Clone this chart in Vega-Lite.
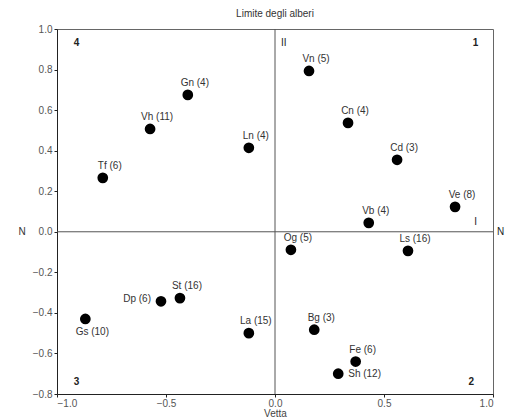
{
  "$schema": "https://vega.github.io/schema/vega-lite/v6.json",
  "autosize": "none",
  "width": 436,
  "height": 365,
  "padding": {"left": 57, "top": 29, "right": 12, "bottom": 25},
  "background": "white",
  "config": {
    "font": "Liberation Sans",
    "view": {"stroke": "#666", "strokeWidth": 1},
    "axis": {"grid": false, "domainColor": "#222", "tickColor": "#222", "tickSize": 3, "labelPadding": 1, "labelColor": "#555", "labelFontSize": 10, "labelFont": "Liberation Sans", "titleFont": "Liberation Sans", "titleFontWeight": "normal", "titleColor": "#444", "titleFontSize": 10}
  },
  "title": {"text": "Limite degli alberi", "fontSize": 10, "fontWeight": "normal", "color": "#333", "font": "Liberation Sans", "offset": 5, "anchor": "middle"},
  "datasets": {
    "pts": [
      {"name": "Gn (4)", "vetta": -0.40, "n": 0.675, "pos": "above"},
      {"name": "Vh (11)", "vetta": -0.573, "n": 0.507, "pos": "above"},
      {"name": "Ln (4)", "vetta": -0.12, "n": 0.414, "pos": "above"},
      {"name": "Tf (6)", "vetta": -0.79, "n": 0.266, "pos": "above"},
      {"name": "Vn (5)", "vetta": 0.156, "n": 0.793, "pos": "above"},
      {"name": "Cn (4)", "vetta": 0.335, "n": 0.537, "pos": "above"},
      {"name": "Cd (3)", "vetta": 0.56, "n": 0.355, "pos": "above"},
      {"name": "Ve (8)", "vetta": 0.826, "n": 0.123, "pos": "above"},
      {"name": "Vb (4)", "vetta": 0.43, "n": 0.044, "pos": "above"},
      {"name": "Og (5)", "vetta": 0.073, "n": -0.089, "pos": "above"},
      {"name": "Ls (16)", "vetta": 0.61, "n": -0.094, "pos": "above"},
      {"name": "Bg (3)", "vetta": 0.18, "n": -0.483, "pos": "above"},
      {"name": "Fe (6)", "vetta": 0.37, "n": -0.64, "pos": "above"},
      {"name": "Sh (12)", "vetta": 0.29, "n": -0.70, "pos": "right"},
      {"name": "La (15)", "vetta": -0.12, "n": -0.50, "pos": "above"},
      {"name": "St (16)", "vetta": -0.436, "n": -0.327, "pos": "above"},
      {"name": "Dp (6)", "vetta": -0.523, "n": -0.343, "pos": "left"},
      {"name": "Gs (10)", "vetta": -0.87, "n": -0.43, "pos": "below"}
    ],
    "quad": [
      {"t": "4", "vetta": -0.91, "n": 0.93},
      {"t": "1", "vetta": 0.92, "n": 0.93},
      {"t": "3", "vetta": -0.91, "n": -0.74},
      {"t": "2", "vetta": 0.90, "n": -0.74}
    ],
    "marks": [
      {"t": "II", "vetta": 0.04, "n": 0.93},
      {"t": "I", "vetta": 0.92, "n": 0.05},
      {"t": "N", "vetta": 1.035, "n": 0.0}
    ],
    "leftN": [{"t": "N", "vetta": -1.16, "n": 0.0}]
  },
  "encoding": {
    "x": {"field": "vetta", "type": "quantitative", "scale": {"domain": [-1, 1], "nice": false, "zero": false}, "axis": {"title": "Vetta", "values": [-1, -0.5, 0, 0.5, 1], "format": ".1f", "titlePadding": 0}},
    "y": {"field": "n", "type": "quantitative", "scale": {"domain": [-0.8, 1.0], "nice": false, "zero": false}, "axis": {"title": null, "values": [-0.8, -0.6, -0.4, -0.2, 0, 0.2, 0.4, 0.6, 0.8, 1.0], "format": ".1f", "labelPadding": 2}}
  },
  "layer": [
    {"data": {"values": [{"v": 0}]}, "mark": {"type": "rule", "color": "#555", "strokeWidth": 1}, "encoding": {"x": {"field": "v", "type": "quantitative"}, "y": null}},
    {"data": {"values": [{"v": 0}]}, "mark": {"type": "rule", "color": "#555", "strokeWidth": 1}, "encoding": {"y": {"field": "v", "type": "quantitative"}, "x": null}},
    {"data": {"name": "pts"}, "mark": {"type": "point", "filled": true, "shape": "circle", "size": 115, "color": "black", "opacity": 1}},
    {"data": {"name": "pts"}, "transform": [{"filter": "datum.pos == 'above'"}], "mark": {"type": "text", "fontSize": 10, "color": "#333", "align": "center", "baseline": "alphabetic", "dx": 7, "dy": -9}, "encoding": {"text": {"field": "name"}}},
    {"data": {"name": "pts"}, "transform": [{"filter": "datum.pos == 'left'"}], "mark": {"type": "text", "fontSize": 10, "color": "#333", "align": "right", "baseline": "middle", "dx": -10, "dy": -2}, "encoding": {"text": {"field": "name"}}},
    {"data": {"name": "pts"}, "transform": [{"filter": "datum.pos == 'right'"}], "mark": {"type": "text", "fontSize": 10, "color": "#333", "align": "left", "baseline": "middle", "dx": 10, "dy": 0}, "encoding": {"text": {"field": "name"}}},
    {"data": {"name": "pts"}, "transform": [{"filter": "datum.pos == 'below'"}], "mark": {"type": "text", "fontSize": 10, "color": "#333", "align": "center", "baseline": "top", "dx": 7, "dy": 8}, "encoding": {"text": {"field": "name"}}},
    {"data": {"name": "quad"}, "mark": {"type": "text", "fontSize": 10, "fontWeight": "bold", "color": "#222", "align": "center", "baseline": "middle"}, "encoding": {"text": {"field": "t"}}},
    {"data": {"name": "marks"}, "mark": {"type": "text", "fontSize": 10, "color": "#222", "align": "center", "baseline": "middle"}, "encoding": {"text": {"field": "t"}}},
    {"data": {"name": "leftN"}, "mark": {"type": "text", "fontSize": 10, "color": "#333", "align": "center", "baseline": "middle", "clip": false}, "encoding": {"text": {"field": "t"}}}
  ]
}
